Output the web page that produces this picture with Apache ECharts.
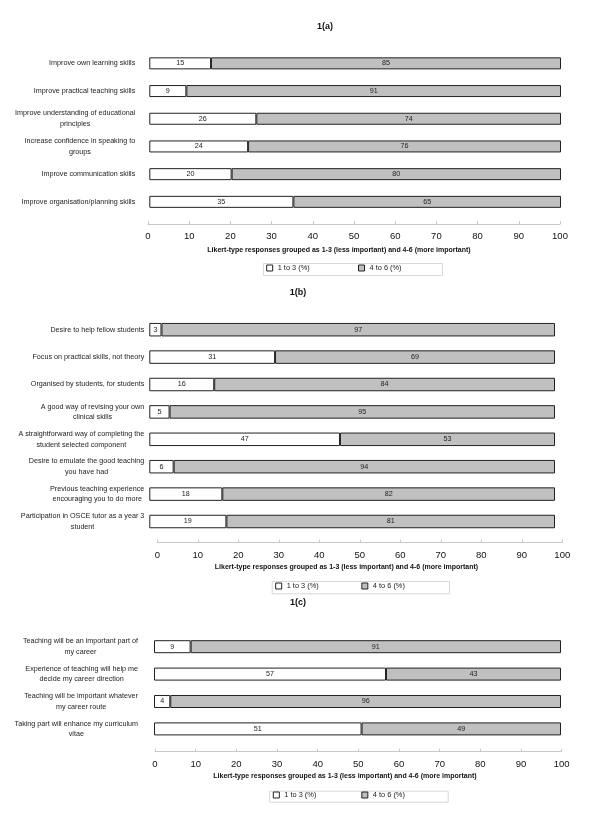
<!DOCTYPE html>
<html><head><meta charset="utf-8">
<script src="https://cdn.jsdelivr.net/npm/echarts@6/dist/echarts.min.js"></script>
<style>html,body{margin:0;padding:0;background:#fff}#c{width:600px;height:820px}</style>
</head><body><div id="c"></div>
<script>
// ---- data ----
const catA = [
  'Improve own learning skills',
  'Improve practical teaching skills',
  'Improve understanding of educational\nprinciples',
  'Increase confidence in speaking to\ngroups',
  'Improve communication skills',
  'Improve organisation/planning skills'
];
const lowA  = [15, 9, 26, 24, 20, 35];
const highA = [85, 91, 74, 76, 80, 65];

const catB = [
  'Desire to help fellow students',
  'Focus on practical skills, not theory',
  'Organised by students, for students',
  'A good way of revising your own\nclinical skills',
  'A straightforward way of completing the\nstudent selected component',
  'Desire to emulate the good teaching\nyou have had',
  'Previous teaching experience\nencouraging you to do more',
  'Participation in OSCE tutor as a year 3\nstudent'
];
const lowB  = [3, 31, 16, 5, 47, 6, 18, 19];
const highB = [97, 69, 84, 95, 53, 94, 82, 81];

const catC = [
  'Teaching will be an important part of\nmy career',
  'Experience of teaching will help me\ndecide my career direction',
  'Teaching will be important whatever\nmy career route',
  'Taking part will enhance my curriculum\nvitae'
];
const lowC  = [9, 57, 4, 51];
const highC = [91, 43, 96, 49];

const titles = ['1(a)', '1(b)', '1(c)'];
const axisName = 'Likert-type responses grouped as 1-3 (less important) and 4-6 (more important)';
const seriesNames = ['1 to 3 (%)', '4 to 6 (%)'];
const xMin = 0, xMax = 100, xStep = 10;

// ---- layout / style ----
const FONT = 'Liberation Sans, Arial, Helvetica, sans-serif';
const COLORS = ['#ffffff', '#c0c0c0'];
const BORDER = '#222222';
const panels = [
  {cats: catA, low: lowA, high: highA,
   bar: {left: 149.3, width: 411.7, top: 49.5, height: 166.2}, barW: 12, labMargin: 14,
   axis: {left: 148, width: 412, bottom: 224},
   title: {x: 325, y: 27}, name: {x: 339, y: 250},
   legend: {box: [263, 263, 179, 12], left: 266.2, cy: 269, gap: 48.3}},
  {cats: catB, low: lowB, high: highB,
   bar: {left: 149.3, width: 405.7, top: 316, height: 219.2}, barW: 13.5, labMargin: 5,
   axis: {left: 157.3, width: 405, bottom: 542.7},
   title: {x: 298, y: 293}, name: {x: 346.5, y: 566.7},
   legend: {box: [271.7, 581, 177.3, 12.3], left: 275.2, cy: 587, gap: 42.6}},
  {cats: catC, low: lowC, high: highC,
   bar: {left: 154, width: 407, top: 633, height: 109.6}, barW: 13, labMargin: 16,
   axis: {left: 155, width: 406.7, bottom: 751.7},
   title: {x: 298, y: 603}, name: {x: 345, y: 776},
   legend: {box: [269, 790.7, 178.7, 11], left: 272.8, cy: 796, gap: 45}}
];

const grid = [], xAxis = [], yAxis = [], series = [], legend = [], graphic = [];
panels.forEach((p, i) => {
  const gb = grid.length;
  grid.push({left: p.bar.left, width: p.bar.width, top: p.bar.top, height: p.bar.height, containLabel: false});
  grid.push({left: p.axis.left, width: p.axis.width, top: p.axis.bottom - 20, height: 20, containLabel: false});
  xAxis.push({gridIndex: gb, type: 'value', min: xMin, max: xMax, show: false});
  yAxis.push({gridIndex: gb, type: 'category', data: p.cats, inverse: true,
    axisLine: {show: false}, axisTick: {show: false}, splitLine: {show: false},
    axisLabel: {margin: p.labMargin, color: '#222', fontFamily: FONT, fontSize: 7.2,
      formatter: v => v.split('\n').map(s => '{c|' + s + '}').join('\n'),
      rich: {c: {align: 'center', fontFamily: FONT, fontSize: 7.2, lineHeight: 10.5, color: '#222'}}}});
  xAxis.push({gridIndex: gb + 1, type: 'value', min: xMin, max: xMax, interval: xStep,
    axisLine: {show: true, lineStyle: {color: '#c8c8c8', width: 1}},
    axisTick: {show: true, inside: true, length: 3, lineStyle: {color: '#c8c8c8'}},
    splitLine: {show: false},
    axisLabel: {margin: 7.5, fontSize: 9.5, color: '#111', fontFamily: FONT}});
  yAxis.push({gridIndex: gb + 1, type: 'value', show: false, min: 0, max: 1});

  const lab = {show: true, position: 'inside', fontSize: 7.2, color: '#222', fontFamily: FONT};
  [p.low, p.high].forEach((vals, k) => {
    series.push({name: seriesNames[k], type: 'bar', stack: 's' + i, xAxisIndex: gb, yAxisIndex: gb,
      data: vals, barWidth: p.barW, label: lab,
      itemStyle: {color: COLORS[k], borderColor: BORDER, borderWidth: 1}});
  });

  legend.push({
    data: seriesNames.map((n, k) => ({name: n, icon: 'rect',
      itemStyle: {color: COLORS[k], borderColor: BORDER, borderWidth: 1}})),
    left: p.legend.left, top: p.legend.cy - 4.5, padding: 0,
    itemWidth: 6, itemHeight: 6, itemGap: p.legend.gap,
    textStyle: {fontSize: 7.4, color: '#222', fontFamily: FONT},
    selectedMode: false});
  const b = p.legend.box;
  graphic.push({type: 'rect', shape: {x: b[0] + 0.5, y: b[1] + 0.5, width: b[2], height: b[3]},
    style: {fill: 'none', stroke: '#d8d8d8', lineWidth: 1}, silent: true});
  graphic.push({type: 'text', x: p.title.x, y: p.title.y,
    style: {text: titles[i], fontFamily: FONT, fontSize: 9, fontWeight: 'bold', fill: '#111',
      textAlign: 'center', textVerticalAlign: 'middle'}});
  graphic.push({type: 'text', x: p.name.x, y: p.name.y,
    style: {text: axisName, fontFamily: FONT, fontSize: 7, fontWeight: 'bold', fill: '#111',
      textAlign: 'center', textVerticalAlign: 'middle'}});
});

const chart = echarts.init(document.getElementById('c'), null, {renderer: 'canvas'});
chart.setOption({
  animation: false,
  backgroundColor: '#ffffff',
  grid, xAxis, yAxis, series, legend, graphic
});
</script>
</body></html>
